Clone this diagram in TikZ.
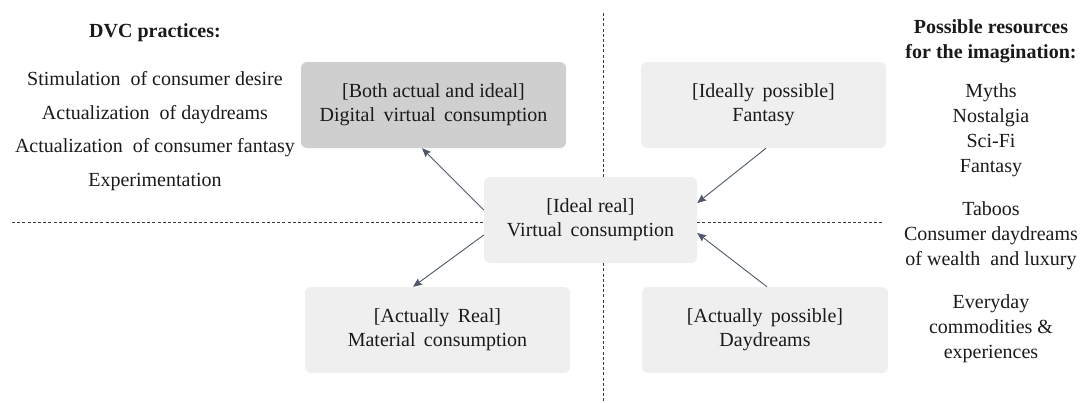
\documentclass[tikz,border=0pt]{standalone}
\usepackage{fontspec}
\setmainfont{Liberation Serif}
\usetikzlibrary{arrows.meta}
\definecolor{boxlight}{HTML}{EFEFEF}
\definecolor{boxdark}{HTML}{CFCFCF}
\definecolor{arrowcol}{HTML}{4E5868}
\definecolor{dashcol}{HTML}{3A3A3A}
\definecolor{txtcol}{HTML}{1A1A1A}
\tikzset{
  box/.style={rectangle, rounded corners=6pt, draw=none, fill=boxlight, minimum height=86pt,
    align=center, text=txtcol, font=\fontsize{20}{24}\selectfont, inner sep=0pt},
  darkbox/.style={box, fill=boxdark},
  conn/.style={draw=arrowcol, line width=0.9pt, -{Stealth[length=9pt,width=7.5pt,inset=1.5pt]}},
  sep/.style={draw=dashcol, line width=0.8pt, dash pattern=on 3pt off 2.2pt},
  plain/.style={align=center, text=txtcol, inner sep=0pt},
}
\begin{document}
\begin{tikzpicture}[x=1pt,y=-1pt]
\useasboundingbox (0,0) rectangle (1081,402);
% boxes
\node[darkbox, minimum width=265pt] (both) at (433.5,105) {[Both actual and ideal]\\Digital\, virtual\, consumption};
\node[box, minimum width=245pt] (ideal) at (763.5,105) {[Ideally\, possible]\\Fantasy};
\node[box, minimum width=213pt] (c) at (590.5,220) {[Ideal real]\\Virtual\, consumption};
\node[box, minimum width=265pt] (areal) at (437.5,330) {[Actually\, Real]\\Material\, consumption};
\node[box, minimum width=246pt] (aposs) at (765,330) {[Actually\, possible]\\Daydreams};
% dashed separators
\coordinate (hl) at (12,222);
\coordinate (hr) at (883,222);
\coordinate (vt) at (603,13);
\coordinate (vb) at (603,402);
\draw[sep] (hl) -- (hl -| c.west);
\draw[sep] (hr -| c.east) -- (hr);
\draw[sep] (vt) -- (vt |- c.north);
\draw[sep] (vb |- c.south) -- (vb);
% arrows
\draw[conn] ([yshift=10pt]c.west) -- ([xshift=-11.5pt]both.south);
\draw[conn] ([xshift=2.5pt]ideal.south) -- ([yshift=17pt]c.east);
\draw[conn] ([yshift=-15pt]c.west) -- ([xshift=-24.5pt]areal.north);
\draw[conn] ([xshift=2pt]aposs.north) -- ([yshift=-13pt]c.east);
% left column
\node[plain, font=\fontsize{20}{24}\selectfont\bfseries] (dvc) at (155,33) {DVC practices:};
\node[plain, font=\fontsize{20}{33.4}\selectfont] (dvclist) at (155,131) {Stimulation\ \ of consumer desire\\Actualization\ \ of daydreams\\Actualization\ \ of consumer fantasy\\Experimentation};
% right column
\node[plain, font=\fontsize{20}{25}\selectfont\bfseries] (res) at (991,41) {Possible resources\\for the imagination:};
\node[plain, font=\fontsize{20}{25}\selectfont] (res1) at (991,130) {Myths\\Nostalgia\\Sci-Fi\\Fantasy};
\node[plain, font=\fontsize{20}{25}\selectfont] (res2) at (991,236) {Taboos\\Consumer daydreams\\of wealth\ \ and luxury};
\node[plain, font=\fontsize{20}{25}\selectfont] (res3) at (991,329) {Everyday\\commodities \&\\experiences};
\end{tikzpicture}
\end{document}
